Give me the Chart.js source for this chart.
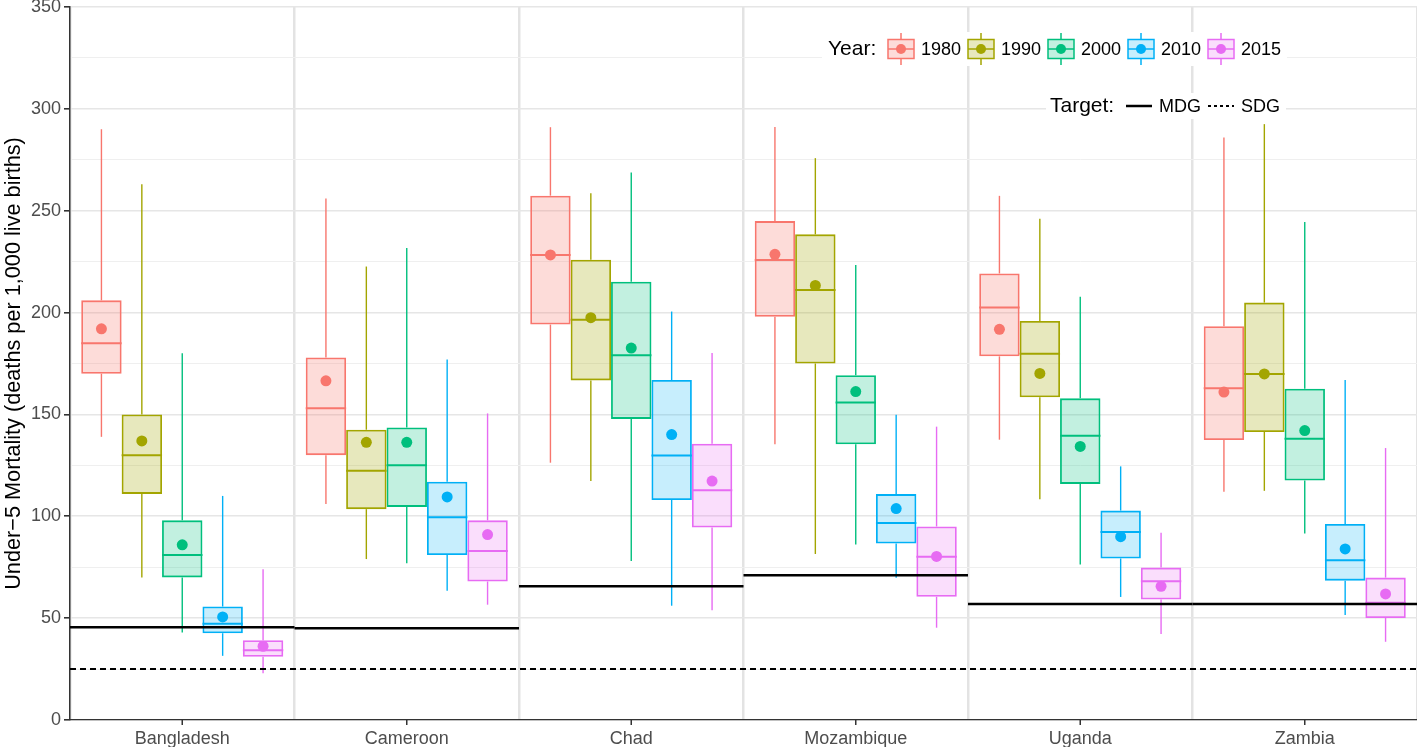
<!DOCTYPE html>
<html>
<head>
<meta charset="utf-8">
<script src="https://cdn.jsdelivr.net/npm/chart.js@4.4.1/dist/chart.umd.min.js"></script>
<style>
  html, body { margin: 0; padding: 0; background: #fff; }
  #wrap { position: relative; width: 1417px; height: 747px; }
</style>
</head>
<body>
<div id="wrap"><canvas id="chart"></canvas></div>
<script>
/* Under-5 mortality boxplots by country and year */

const countries = ['Bangladesh', 'Cameroon', 'Chad', 'Mozambique', 'Uganda', 'Zambia'];
const years = ['1980', '1990', '2000', '2010', '2015'];
const colors = ['#F8766D', '#A3A500', '#00BF7D', '#00B0F6', '#E76BF3'];
const fills = ['rgba(248,118,109,0.26)', 'rgba(163,165,0,0.26)', 'rgba(0,191,125,0.24)', 'rgba(0,176,246,0.22)', 'rgba(231,107,243,0.22)'];

// one row per year, one value per country
const whiskerLow = [
  [139, 106, 126.3, 135.4, 137.6, 112.1],
  [70, 79, 117.3, 81.5, 108.4, 112.5],
  [43, 77, 78, 86.2, 76.3, 91.5],
  [31.5, 63.5, 56.1, 69.8, 60.4, 51.6],
  [23, 56.6, 53.9, 45.3, 42.2, 38.4]
];
const q1 = [
  [170, 130, 194.1, 197.9, 178.5, 137.4],
  [111, 103.5, 166.7, 175, 158.4, 141.4],
  [70, 104.6, 147.8, 135.3, 115.9, 117.6],
  [42.6, 81, 108, 86.6, 79.3, 68.4],
  [31, 68, 94.5, 60.5, 59.1, 50.1]
];
const median = [
  [185, 153, 228.3, 225.8, 202.5, 162.8],
  [130, 122.4, 196.5, 211.1, 179.8, 169.9],
  [81, 125, 179.1, 155.9, 139.5, 138],
  [47.3, 99.5, 129.8, 96.7, 92.3, 78.4],
  [34.3, 83, 112.8, 80.1, 68.1, 57.6]
];
const q3 = [
  [206, 178, 257.4, 244.9, 219.2, 193.3],
  [150, 142.5, 225.9, 238.4, 195.9, 204.9],
  [98, 143.6, 215.1, 169.2, 157.9, 162.6],
  [55.7, 117, 166.9, 110.9, 102.8, 96.2],
  [39.2, 98, 135.6, 95, 74.8, 69.9]
];
const whiskerHigh = [
  [290, 256, 291, 291.1, 257.3, 285.9],
  [263, 222.6, 258.6, 275.8, 246, 292.5],
  [180, 231.7, 268.7, 223.3, 207.8, 244.5],
  [110, 177, 200.5, 149.8, 124.5, 166.9],
  [74, 150.5, 180.2, 144, 91.9, 133.5]
];
const mean = [
  [192, 166.5, 228.3, 228.6, 191.8, 161],
  [137, 136.3, 197.5, 213.3, 170.1, 169.9],
  [86, 136.3, 182.6, 161.2, 134.3, 142.1],
  [50.6, 109.5, 140.1, 103.8, 90, 84],
  [36.2, 91, 117.3, 80.3, 65.6, 61.9]
];
const mdgTarget = [45.5, 45, 65.7, 71, 57, 57];
const sdgTarget = 25;

const FONT = '"Liberation Sans", Arial, Helvetica, sans-serif';

function line(ctx, x1, y1, x2, y2) {
  ctx.beginPath();
  ctx.moveTo(x1, y1);
  ctx.lineTo(x2, y2);
  ctx.stroke();
}

const boxExtras = {
  id: 'boxExtras',
  afterDatasetsDraw(chart) {
    const { ctx, chartArea, scales: { x, y } } = chart;
    ctx.save();
    chart.data.datasets.forEach((ds, d) => {
      const meta = chart.getDatasetMeta(d);
      meta.data.forEach((bar, i) => {
        const cx = bar.x, hw = bar.width / 2;
        ctx.strokeStyle = colors[d];
        ctx.lineWidth = 1.4;
        line(ctx, cx, y.getPixelForValue(q3[d][i]), cx, y.getPixelForValue(whiskerHigh[d][i]));
        line(ctx, cx, y.getPixelForValue(q1[d][i]), cx, y.getPixelForValue(whiskerLow[d][i]));
        ctx.lineWidth = 2;
        const my = y.getPixelForValue(median[d][i]);
        line(ctx, cx - hw, my, cx + hw, my);
        ctx.fillStyle = colors[d];
        ctx.beginPath();
        ctx.arc(cx, y.getPixelForValue(mean[d][i]), 5.5, 0, Math.PI * 2);
        ctx.fill();
      });
    });

    // targets
    const band = x.getPixelForValue(1) - x.getPixelForValue(0);
    ctx.strokeStyle = '#000';
    ctx.lineWidth = 2.5;
    mdgTarget.forEach((v, i) => {
      const cx = x.getPixelForValue(i), py = y.getPixelForValue(v);
      line(ctx, cx - band / 2, py, cx + band / 2, py);
    });
    ctx.lineWidth = 2;
    ctx.setLineDash([6, 4]);
    const sy = y.getPixelForValue(sdgTarget);
    line(ctx, chartArea.left, sy, chartArea.right, sy);
    ctx.setLineDash([]);

    // x tick marks at the category centres
    ctx.strokeStyle = '#333';
    ctx.lineWidth = 1.5;
    countries.forEach((c, i) => {
      const cx = x.getPixelForValue(i);
      line(ctx, cx, chartArea.bottom, cx, chartArea.bottom + 5);
    });
    ctx.restore();
  },
  afterDraw(chart) {
    const { ctx } = chart;
    ctx.save();
    ctx.textBaseline = 'middle';
    ctx.textAlign = 'left';

    // Year legend
    const ry = 49;
    ctx.fillStyle = '#fff';
    ctx.fillRect(822, 32, 465, 34);
    ctx.fillStyle = '#000';
    ctx.font = '21px ' + FONT;
    ctx.fillText('Year:', 828, ry);
    years.forEach((yr, i) => {
      const kx = 888 + 80 * i, kw = 26, kh = 19;
      ctx.fillStyle = fills[i];
      ctx.fillRect(kx, ry - kh / 2, kw, kh);
      ctx.strokeStyle = colors[i];
      ctx.lineWidth = 1.5;
      ctx.strokeRect(kx, ry - kh / 2, kw, kh);
      line(ctx, kx + kw / 2, ry - 16, kx + kw / 2, ry - kh / 2);
      line(ctx, kx + kw / 2, ry + kh / 2, kx + kw / 2, ry + 16);
      line(ctx, kx, ry, kx + kw, ry);
      ctx.fillStyle = colors[i];
      ctx.beginPath();
      ctx.arc(kx + kw / 2, ry, 5, 0, Math.PI * 2);
      ctx.fill();
      ctx.fillStyle = '#000';
      ctx.font = '18px ' + FONT;
      ctx.fillText(yr, kx + 33, ry + 1);
    });

    // Target legend
    const ty = 106;
    ctx.fillStyle = '#fff';
    ctx.fillRect(1046, 93, 240, 26);
    ctx.fillStyle = '#000';
    ctx.font = '21px ' + FONT;
    ctx.fillText('Target:', 1050, ty);
    ctx.strokeStyle = '#000';
    ctx.lineWidth = 2.5;
    line(ctx, 1126, ty, 1152, ty);
    ctx.font = '18px ' + FONT;
    ctx.fillText('MDG', 1159, ty + 1);
    ctx.lineWidth = 2;
    ctx.setLineDash([3, 3]);
    line(ctx, 1208, ty, 1234, ty);
    ctx.setLineDash([]);
    ctx.fillText('SDG', 1241, ty + 1);
    ctx.restore();
  }
};

const datasets = years.map((yr, d) => ({
  label: yr,
  data: countries.map((c, i) => [q1[d][i], q3[d][i]]),
  backgroundColor: fills[d],
  borderColor: colors[d],
  borderWidth: 1.8,
  borderSkipped: false,
  categoryPercentage: 0.9,
  barPercentage: 1.0
}));

new Chart(document.getElementById('chart'), {
  type: 'bar',
  data: { labels: countries, datasets },
  options: {
    responsive: true,
    maintainAspectRatio: false,
    animation: false,
    layout: { padding: { top: 0, right: 0, bottom: 0, left: 0 } },
    plugins: {
      legend: { display: false },
      tooltip: { enabled: false }
    },
    scales: {
      x: {
        grid: { offset: true, color: '#e3e3e3', lineWidth: 2.5, drawTicks: false },
        border: { display: true, color: '#333', width: 1.3 },
        ticks: { color: '#4d4d4d', font: { family: FONT, size: 18, lineHeight: 1 }, padding: 10, maxRotation: 0 },
        afterFit(s) { s.height = 27; }
      },
      y: {
        min: 0,
        max: 350,
        grid: {
          color: ctx => (ctx.tick && ctx.tick.value % 50 === 0) ? '#e6e6e6' : '#efefef',
          lineWidth: ctx => (ctx.tick && ctx.tick.value % 50 === 0) ? 1.6 : 1,
          tickColor: ctx => (ctx.tick && ctx.tick.value % 50 === 0) ? '#333' : 'rgba(0,0,0,0)',
          tickLength: 6
        },
        border: { display: true, color: '#333', width: 1.5 },
        ticks: {
          stepSize: 25,
          color: '#4d4d4d',
          font: { family: FONT, size: 18 },
          padding: 3,
          callback: v => (v % 50 === 0 ? v : '')
        },
        title: {
          display: true,
          text: 'Under\u22125 Mortality (deaths per 1,000 live births)',
          color: '#000',
          font: { family: FONT, size: 21.7 },
          padding: { top: 1, bottom: 0 }
        },
        afterFit(s) { s.width = 70; s.paddingTop = 7; s.paddingBottom = 0; }
      }
    }
  },
  plugins: [boxExtras]
});
</script>
</body>
</html>
